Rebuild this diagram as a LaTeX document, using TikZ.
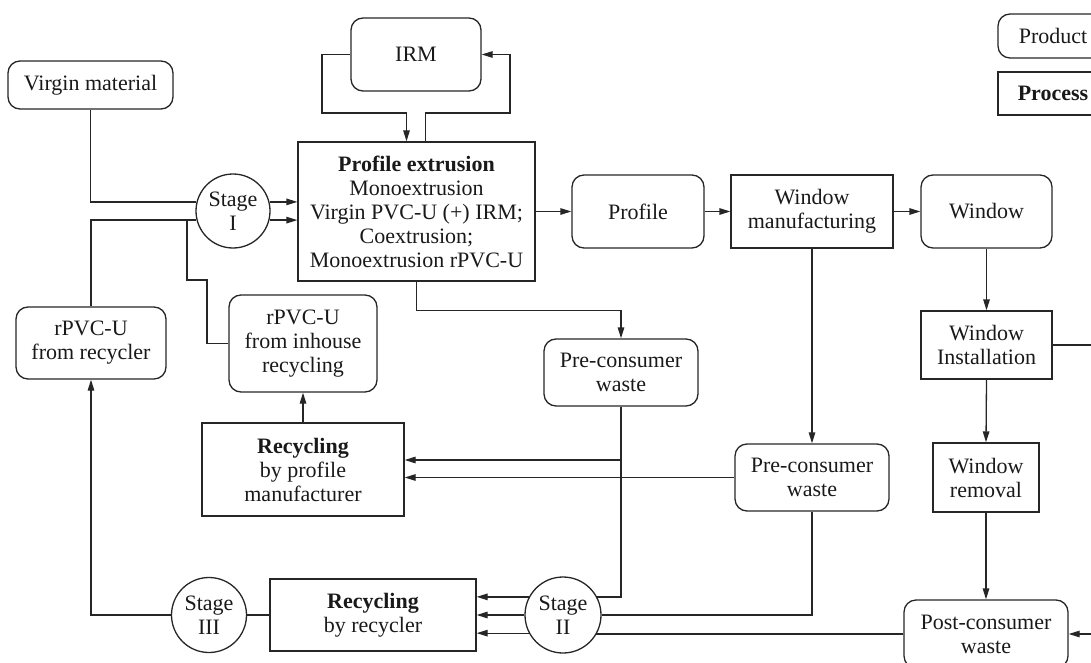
\documentclass[tikz,border=0pt]{standalone}
\usepackage{fontspec}
\setmainfont{Liberation Serif}
\usetikzlibrary{arrows.meta,calc}
\begin{document}
\begin{tikzpicture}[x=1pt,y=-1pt,line width=1.3pt,draw=black!85,
  every node/.style={font=\fontsize{22}{24}\selectfont,align=center,inner sep=0pt,text=black!90},
  prod/.style={draw=black!85,rounded corners=12pt},
  proc/.style={draw=black!85},
  stagec/.style={draw=black!85,circle},
  arr/.style={-{Triangle[length=11pt,width=6.5pt]}}]
\useasboundingbox (0,0) rectangle (1091,663);
\clip (0,0) rectangle (1091,663);
% nodes
\node[prod,minimum width=165pt,minimum height=48pt] (vm) at (90.5,85) {Virgin material};
\node[prod,minimum width=130pt,minimum height=73pt] (irm) at (416,54.5) {IRM};
\node[proc,minimum width=237pt,minimum height=139pt] (pe) at (416.5,211.5) {\textbf{Profile extrusion}\\Monoextrusion\\Virgin PVC-U (+) IRM;\\Coextrusion;\\Monoextrusion rPVC-U};
\node[stagec,minimum size=74pt] (s1) at (233,211) {Stage\\I};
\node[prod,minimum width=132pt,minimum height=73pt] (prof) at (638,211.5) {Profile};
\node[proc,minimum width=162pt,minimum height=73pt] (wm) at (812,211.5) {Window\\manufacturing};
\node[prod,minimum width=131pt,minimum height=73pt] (win) at (986.5,211.5) {Window};
\node[proc,minimum width=131pt,minimum height=68pt] (wi) at (986.5,345) {Window\\Installation};
\node[proc,minimum width=106pt,minimum height=69pt] (wr) at (986,477.5) {Window\\removal};
\node[prod,minimum width=164pt,minimum height=68pt] (pcw) at (986,634) {Post-consumer\\waste};
\node[prod,minimum width=154pt,minimum height=67pt] (pw1) at (621,372.5) {Pre-consumer\\waste};
\node[prod,minimum width=154pt,minimum height=67pt] (pw2) at (812,477.5) {Pre-consumer\\waste};
\node[prod,minimum width=150pt,minimum height=72pt] (rec) at (91,343) {rPVC-U\\from recycler};
\node[prod,minimum width=148pt,minimum height=97pt] (inh) at (303,343.5) {rPVC-U\\from inhouse\\recycling};
\node[proc,minimum width=202pt,minimum height=93pt] (pm) at (303,469.5) {\textbf{Recycling}\\by profile\\manufacturer};
\node[stagec,minimum size=75pt] (s3) at (209,615) {Stage\\III};
\node[proc,minimum width=206pt,minimum height=72pt] (rr) at (373,615) {\textbf{Recycling}\\by recycler};
\node[stagec,minimum size=76pt] (s2) at (563,615) {Stage\\II};
\node[prod,minimum width=110pt,minimum height=44pt] (lprod) at (1053,36) {Product};
\node[proc,minimum width=110pt,minimum height=43pt] (lproc) at (1053,93.5) {\textbf{Process}};
% free ends
\coordinate (eA) at (1100,345);
\coordinate (eB) at (1100,634);
\coordinate (j1) at (187,220);
\coordinate (pmA) at ([yshift=9.5pt]pm.east);
% connectors
\draw (vm.south) |- (s1.166);
\draw (rec.north) |- (s1.194);
\draw[arr] (s1.14) -- (s1.14 -| pe.west);
\draw[arr] (s1.-14) -- (s1.-14 -| pe.west);
\draw (inh.west) -| (207,280) -| (j1);
\draw[arr] (irm.west) -| (322,113) -| ([xshift=-10pt]pe.north);
\draw[arr] ([xshift=9pt]pe.north) |- (510,113) |- (irm.east);
\draw[arr] (pe.east) -- (prof.west);
\draw[arr] (prof.east) -- (wm.west);
\draw[arr] (wm.east) -- (win.west);
\draw[arr] (win.south) -- (wi.north);
\draw[arr] (wi.south) -- (wr.north);
\draw[arr] (wr.south) -- (pcw.north);
\draw[arr] (wm.south) -- (pw2.north);
\draw[arr] (pe.south) -- ++(0,29) -| (pw1.north);
\draw (pw1.south) |- (s2.28);
\draw[arr] (pw1.south |- pmA) -- (pmA);
\draw[arr] (pw2.west) -- (pw2.west -| pm.east);
\draw (pw2.south) |- (s2.east);
\draw (pcw.west) -- (pcw.west -| s2.-30);
\draw[arr] (eB) -- (pcw.east);
\draw (wi.east) -- (eA);
\draw[arr] (s2.152) -- (s2.152 -| rr.east);
\draw[arr] (s2.west) -- (rr.east);
\draw[arr] (s2.208) -- (s2.208 -| rr.east);
\draw (s3.east) -- (rr.west);
\draw[arr] (s3.west) -| (rec.south);
\draw[arr] (pm.north) -- (inh.south);
\end{tikzpicture}
\end{document}
